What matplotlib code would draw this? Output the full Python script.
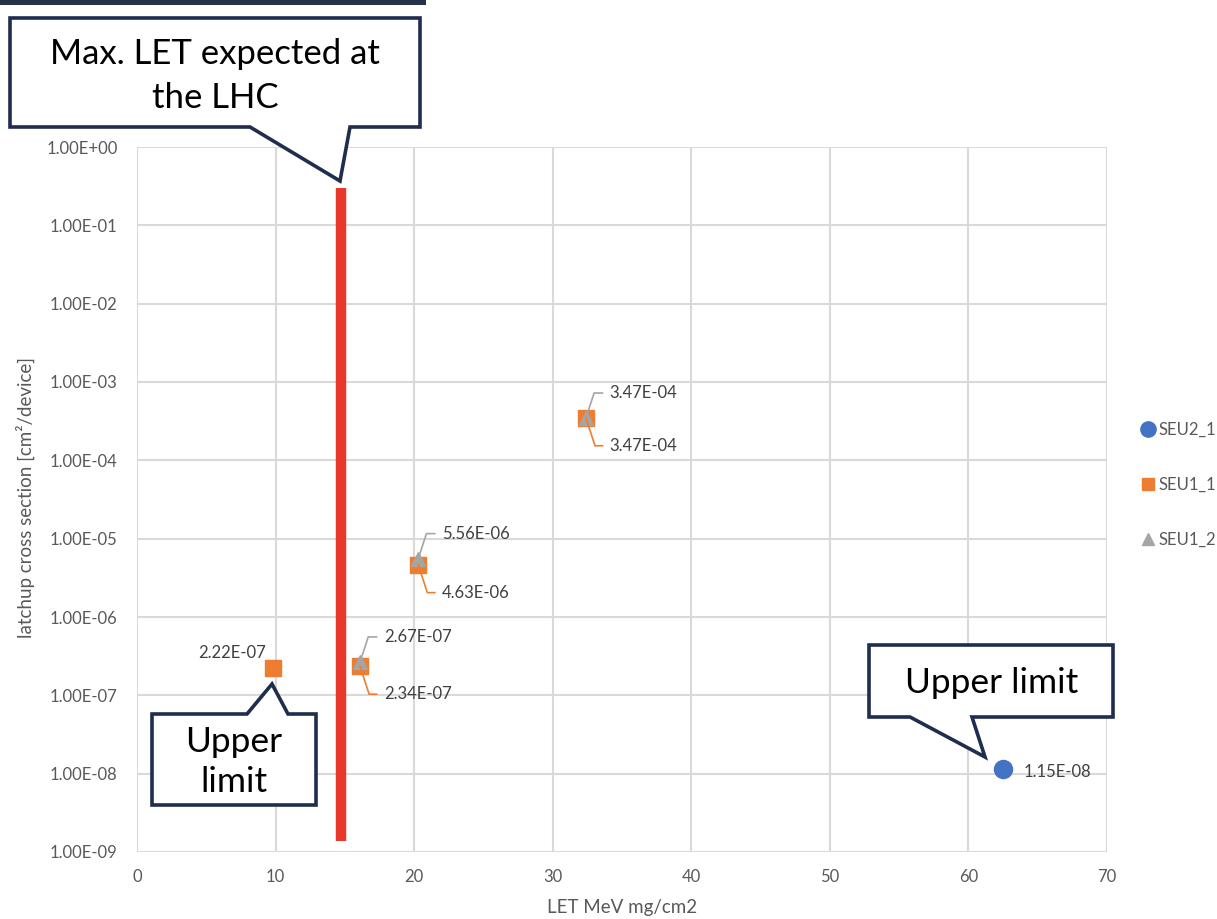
import matplotlib
matplotlib.use("Agg")
import matplotlib.pyplot as plt
from matplotlib.patches import Polygon, Rectangle
from matplotlib.transforms import Affine2D
from matplotlib.ticker import FixedLocator, FuncFormatter, NullLocator
from matplotlib.lines import Line2D

plt.rcParams['font.family'] = ['Lato', 'DejaVu Sans']

# ---- data -------------------------------------------------------------
seu2_1_let = [62.5]
seu2_1_xs = [1.15e-08]

seu1_1_let = [9.8, 16.1, 20.3, 32.4]
seu1_1_xs = [2.22e-07, 2.34e-07, 4.63e-06, 3.47e-04]

seu1_2_let = [16.1, 20.3, 32.4]
seu1_2_xs = [2.67e-07, 5.56e-06, 3.47e-04]

lhc_max_let = 14.7
lhc_band = [1.4e-09, 0.3]

x_ticks = [0, 10, 20, 30, 40, 50, 60, 70]
y_ticks = [1e-9, 1e-8, 1e-7, 1e-6, 1e-5, 1e-4, 1e-3, 1e-2, 1e-1, 1e0]

# ---- colours ----------------------------------------------------------
BLUE = '#4472C4'
ORANGE = '#ED7D31'
GREY = '#A5A5A5'
RED = '#E8382A'
NAVY = '#1F2D4E'
GRID = '#D9D9D9'
TXT = '#595959'

W, H = 1217, 919
fig = plt.figure(figsize=(W / 100, H / 100), dpi=100)
ax = fig.add_axes([137 / W, 1 - 852 / H, (1107 - 137) / W, (852 - 147) / H])

ax.set_yscale('log')
ax.set_xlim(0, 70)
ax.set_ylim(1e-9, 1e0)
ax.xaxis.set_major_locator(FixedLocator(x_ticks))
ax.yaxis.set_major_locator(FixedLocator(y_ticks))
ax.yaxis.set_minor_locator(NullLocator())
ax.yaxis.set_major_formatter(FuncFormatter(lambda v, p: f"{v:.2E}"))
ax.grid(True, color=GRID, lw=1.5)
ax.set_axisbelow(True)
for s in ax.spines.values():
    s.set_visible(False)
ax.tick_params(length=0, colors=TXT, labelsize=12)
ax.tick_params(axis='y', pad=14)
ax.tick_params(axis='x', pad=12)

ax.set_xlabel('LET MeV mg/cm2', color=TXT, fontsize=13.5, va='center')
ax.set_ylabel('latchup cross section [cm²/device]', color=TXT, fontsize=13.5, va='center')
ax.xaxis.set_label_coords((622 - 137) / 970, (852 - 908) / 705)
ax.yaxis.set_label_coords((25 - 137) / 970, (852 - 497) / 705)

# LHC maximum LET band
ax.vlines(lhc_max_let, lhc_band[0], lhc_band[1], color=RED, lw=7.5, zorder=3)

# series
ax.plot(seu2_1_let, seu2_1_xs, 'o', color=BLUE, ms=13, zorder=5, label='SEU2_1')
ax.plot(seu1_1_let, seu1_1_xs, 's', color=ORANGE, ms=11.5, zorder=5, label='SEU1_1')
ax.plot(seu1_2_let, seu1_2_xs, '^', color=GREY, ms=10, zorder=6, label='SEU1_2')

lbl = dict(fontsize=12, color='#404040', va='center', ha='left', textcoords='offset points')

# grey (SEU1_2) labels above, with leader lines
for x, y in zip(seu1_2_let, seu1_2_xs):
    ax.annotate(f"{y:.2E}", (x, y), xytext=(17, 18), **lbl,
                arrowprops=dict(arrowstyle='-', color=GREY, lw=1.2, relpos=(0, 0.5),
                                shrinkA=3, shrinkB=0,
                                connectionstyle='angle,angleA=0,angleB=72,rad=0'),
                zorder=7)

# orange (SEU1_1) labels below, with leader lines
for x, y in zip(seu1_1_let[1:], seu1_1_xs[1:]):
    ax.annotate(f"{y:.2E}", (x, y), xytext=(17, -20), **lbl,
                arrowprops=dict(arrowstyle='-', color=ORANGE, lw=1.2, relpos=(0, 0.5),
                                shrinkA=3, shrinkB=0,
                                connectionstyle='angle,angleA=0,angleB=-72,rad=0'),
                zorder=7)

ax.annotate(f"{seu1_1_xs[0]:.2E}", (seu1_1_let[0], seu1_1_xs[0]), xytext=(-5, 11),
            fontsize=12, color='#404040', va='center', ha='right', textcoords='offset points')
ax.annotate(f"{seu2_1_xs[0]:.2E}", (seu2_1_let[0], seu2_1_xs[0]), xytext=(15, -2),
            fontsize=12, color='#404040', va='center', ha='left', textcoords='offset points')

# legend
handles = [
    Line2D([], [], marker='o', ls='', color=BLUE, ms=11),
    Line2D([], [], marker='s', ls='', color=ORANGE, ms=9),
    Line2D([], [], marker='^', ls='', color=GREY, ms=8),
]
fig.legend(handles, ['SEU2_1', 'SEU1_1', 'SEU1_2'], loc='center left',
           bbox_to_anchor=(1135 / W, 1 - 485 / H), frameon=False,
           fontsize=12, labelcolor=TXT, handlelength=0.6, handletextpad=0.3,
           labelspacing=2.35, borderpad=0)

# ---- callouts (figure pixel coordinates, y downward) -------------------
px = Affine2D().scale(1 / W, -1 / H).translate(0, 1) + fig.transFigure


def callout(pts, text, tx, ty, size, ls=1.2):
    fig.add_artist(Polygon(pts, closed=True, transform=px, facecolor='white',
                           edgecolor=NAVY, lw=2.6, joinstyle='miter', zorder=10))
    fig.text(tx, ty, text, transform=px, ha='center', va='center', fontsize=size,
             color='black', linespacing=ls, zorder=11)


callout([(10, 18), (420, 18), (420, 127), (350, 127), (340, 181), (250, 127), (10, 127)],
        'Max. LET expected at\nthe LHC', 215, 76, 25, ls=1.45)
callout([(152, 714), (247, 714), (272, 684), (288, 714), (316, 714), (316, 805), (152, 805)],
        'Upper\nlimit', 234, 762, 25.5, ls=1.3)
callout([(869, 645), (1113, 645), (1113, 717), (972, 717), (985, 757), (910, 717), (869, 717)],
        'Upper limit', 992, 683, 25.5)

# navy strip at the top edge
fig.add_artist(Rectangle((0, 0), 426, 5, transform=px, color='#263248', lw=0, zorder=10))

fig.savefig('out.png', dpi=100)
